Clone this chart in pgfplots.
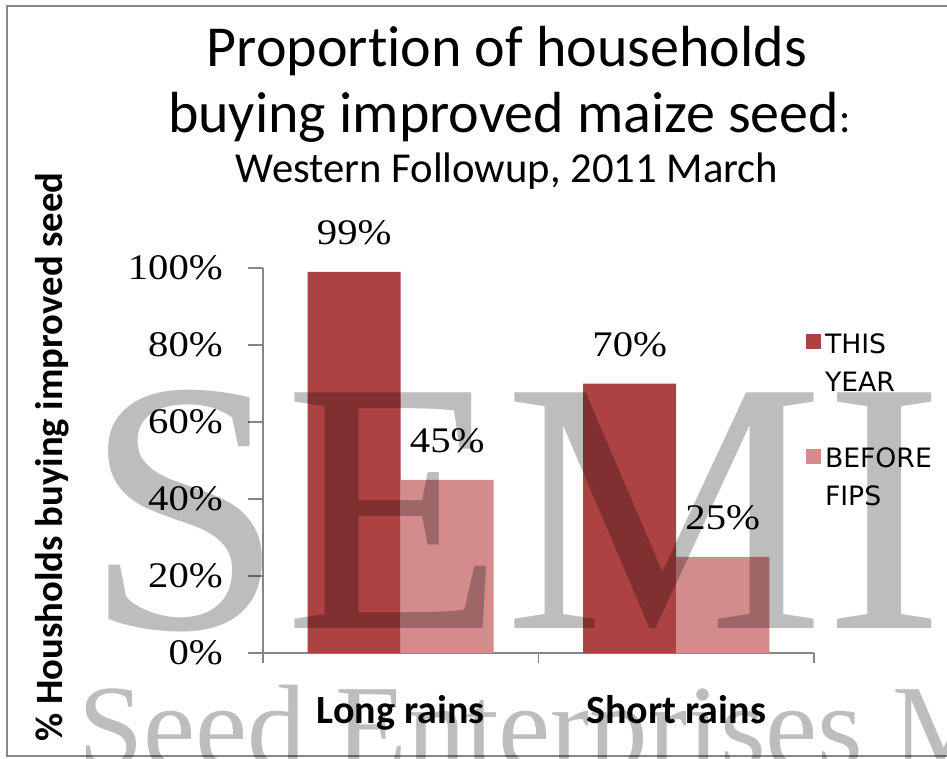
\documentclass[border=0pt]{standalone}
\usepackage{fontspec}
\usepackage{pgfplots}
\pgfplotsset{compat=1.18}
\setmainfont[Ligatures=NoCommon]{Carlito}
\newfontfamily\tickfont[FakeStretch=1.13]{Liberation Serif}
\newfontfamily\legfont{DejaVu Sans}
\newfontfamily\wmfont{Liberation Serif}
\definecolor{barDark}{RGB}{173,66,66}
\definecolor{barLight}{RGB}{212,139,139}
\definecolor{axisGray}{RGB}{134,134,134}

\begin{document}
\begin{tikzpicture}
% 1 px of the reference = 0.75pt
\path[use as bounding box, clip] (0,0) rectangle (710.25pt,568.5pt);
\fill[white] (0,0) rectangle (710.25pt,568.5pt);
\draw[axisGray, line width=1.2pt] (5.25pt,1.5pt) rectangle (730pt,564pt);

\node[anchor=base, font=\fontsize{43.5pt}{43.5pt}\selectfont] at (380.25pt,518.25pt) {Proportion of households};
\node[anchor=base, font=\fontsize{43.5pt}{43.5pt}\selectfont] at (382pt,468.75pt) {buying improved maize seed{\fontsize{32pt}{32pt}\selectfont:}};
\node[anchor=base, font=\fontsize{32pt}{32pt}\selectfont] at (380.25pt,431.25pt) {Western Followup, 2011 March};

\begin{axis}[
  at={(197.25pt,78.75pt)}, anchor=south west,
  scale only axis, width=413.25pt, height=288.75pt,
  ybar=0pt, bar width=69.75pt,
  xmin=0, xmax=2, ymin=0, ymax=100,
  enlarge x limits=false, clip=false,
  axis x line*=bottom, axis y line*=left,
  axis line style={axisGray, line width=1.1pt},
  xtick={0.5,1.5}, xticklabels={Long rains, Short rains},
  minor xtick={0,1,2},
  major x tick style={draw=none},
  xticklabel style={font=\bfseries\fontsize{30pt}{30pt}\selectfont, anchor=base, inner sep=0pt, yshift=-41.25pt},
  ytick={0,20,...,100},
  /pgf/number format/assume math mode=true,
  yticklabel={\pgfmathprintnumber{\tick}\%},
  yticklabel style={font=\tickfont\fontsize{27pt}{27pt}\selectfont, anchor=east, inner sep=0pt, xshift=-18.75pt},
  tick align=outside,
  major tick length=11.25pt,
  minor tick length=7.5pt,
  tick style={axisGray, line width=1.1pt},
  nodes near coords={\pgfmathprintnumber{\pgfplotspointmeta}\%},
  every node near coord/.append style={font=\tickfont\fontsize{27pt}{27pt}\selectfont, anchor=south, inner sep=0pt, yshift=20pt, black},
  ylabel={\% Housholds buying improved seed},
  every axis y label/.style={at={(axis description cs:-0.383,0.509)}, rotate=90, anchor=center, font=\bfseries\fontsize{29pt}{29pt}\selectfont},
  legend style={at={(0.985,0.830)}, anchor=north west, draw=none, fill=none, inner sep=0pt,
    font=\legfont\fontsize{20pt}{20pt}\selectfont, row sep=14pt,
    nodes={inner sep=0pt, text height=14.6pt, text depth=0pt},
    /tikz/every odd column/.append style={column sep=3pt}},
  legend cell align=left,
]
\addplot[fill=barDark, draw=none, bar shift=-34.875pt,
  legend image code/.code={\fill[barDark] (0pt,-4.5pt) rectangle (11.25pt,6.75pt);}]
  coordinates {(0.5,99) (1.5,70)};
\addlegendentry{THIS}
\addlegendimage{empty legend}\addlegendentry{YEAR}
\addlegendimage{empty legend}\addlegendentry{}
\addplot[fill=barLight, draw=none, bar shift=34.875pt,
  legend image code/.code={\fill[barLight] (0pt,-4.5pt) rectangle (11.25pt,6.75pt);}]
  coordinates {(0.5,45) (1.5,25)};
\addlegendentry{BEFORE}
\addlegendimage{empty legend}\addlegendentry{FIPS}
\end{axis}

% watermark
\node[anchor=base west, inner sep=0pt, opacity=0.26, font=\wmfont\fontsize{270pt}{270pt}\selectfont] at (63pt,97.5pt) {SEMI};
\node[anchor=base west, inner sep=0pt, opacity=0.26, font=\wmfont\fontsize{88pt}{88pt}\selectfont] at (58.5pt,-6pt) {Seed Enterprises M};
\end{tikzpicture}
\end{document}
